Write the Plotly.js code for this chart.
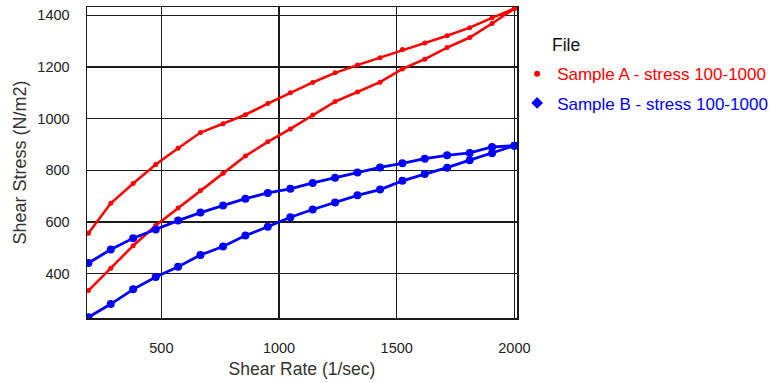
<!DOCTYPE html>
<html>
<head>
<meta charset="utf-8">
<script src="https://cdn.plot.ly/plotly-3.0.1.min.js"></script>
<style>html,body{margin:0;padding:0;background:#fff;}#chart{width:773px;height:383px;}</style>
</head>
<body>
<div id="chart"></div>
<script>
// Shear rate (1/sec) sample points
const shearRate = [190, 285, 380, 476, 571, 666, 762, 857, 952, 1048, 1143, 1238, 1333, 1429, 1524, 1619, 1714, 1810, 1905, 2000];
// Sample A: upper (down-sweep) and lower (up-sweep) branches
const stressA_upper = [556, 672, 749, 822, 885, 946, 980, 1015, 1058, 1100, 1140, 1177, 1207, 1236, 1267, 1293, 1321, 1352, 1390, 1426];
const stressA_lower = [334, 421, 508, 586, 654, 722, 788, 855, 910, 960, 1014, 1066, 1103, 1141, 1192, 1230, 1275, 1314, 1368, 1426];
// Sample B: upper and lower branches
const stressB_upper = [441, 493, 537, 571, 605, 636, 664, 690, 712, 728, 751, 771, 791, 811, 827, 845, 858, 867, 890, 895];
const stressB_lower = [231, 282, 339, 387, 426, 472, 505, 547, 581, 618, 648, 675, 703, 725, 759, 785, 810, 839, 866, 895];

const seriesNames = ["Sample A - stress 100-1000", "Sample B - stress 100-1000"];
const xTicks = [500, 1000, 1500, 2000];
const yTicks = [400, 600, 800, 1000, 1200, 1400];

// Build closed loop: lower branch up, upper branch back down
function loop(lower, upper) {
  const xs = shearRate.concat(shearRate.slice().reverse());
  const ys = lower.concat(upper.slice().reverse());
  return {xs, ys};
}
const A = loop(stressA_lower, stressA_upper);
const B = loop(stressB_lower, stressB_upper);

const red = '#ff0000', blue = '#0000ff';
const traces = [
  {x: A.xs, y: A.ys, name: seriesNames[0], type: 'scatter', mode: 'lines+markers',
   line: {color: red, width: 2.6}, marker: {color: red, size: 5, symbol: 'circle'},
   showlegend: false},
  {x: B.xs, y: B.ys, name: seriesNames[1], type: 'scatter', mode: 'lines+markers',
   line: {color: blue, width: 2.8}, marker: {color: blue, size: 8, symbol: 'circle'},
   showlegend: false},
  // legend entries (markers only, as in the reference legend)
  {x: [null], y: [null], name: seriesNames[0], type: 'scatter', mode: 'markers',
   marker: {color: red, size: 6, symbol: 'circle'}, legendgroup: 'a'},
  {x: [null], y: [null], name: seriesNames[1], type: 'scatter', mode: 'markers',
   marker: {color: blue, size: 9, symbol: 'diamond'}, legendgroup: 'b'}
];

const font = 'Liberation Sans, Arial, sans-serif';
const layout = {
  width: 773, height: 383,
  margin: {l: 87, r: 256, t: 7, b: 65},
  paper_bgcolor: '#fff', plot_bgcolor: '#fff',
  showlegend: true,
  font: {family: font, color: '#222'},
  xaxis: {
    range: [184, 2011], tickvals: xTicks, ticks: '', showgrid: true,
    gridcolor: '#1a1a1a', gridwidth: 1.5, zeroline: false,
    showline: true, linecolor: '#1a1a1a', linewidth: 1.5, mirror: true,
    tickfont: {size: 14.5, color: '#222', family: font}, ticklabelstandoff: 16,
    title: {text: 'Shear Rate (1/sec)', font: {size: 17.5, color: '#333', family: font}, standoff: 8}
  },
  yaxis: {
    range: [228, 1432], tickvals: yTicks, ticks: '', showgrid: true,
    gridcolor: '#1a1a1a', gridwidth: 1.5, zeroline: false,
    showline: true, linecolor: '#1a1a1a', linewidth: 1.5, mirror: true,
    tickfont: {size: 14.5, color: '#222', family: font}, ticklabelstandoff: 13,
    title: {text: 'Shear Stress (N/m2)', font: {size: 18, color: '#333', family: font}, standoff: 6}
  },
  legend: {
    xref: 'container', yref: 'container',
    x: 0.6690, xanchor: 'left', y: 0.853, yanchor: 'top',
    font: {size: 17.0, family: font}, itemwidth: 30, tracegroupgap: 4,
    bgcolor: 'rgba(0,0,0,0)', borderwidth: 0
  },
  annotations: [{
    text: 'File', xref: 'paper', yref: 'paper', x: 1.077, y: 0.878,
    xanchor: 'left', yanchor: 'middle', showarrow: false,
    font: {size: 17.5, color: '#111', family: font}
  }]
};

Plotly.newPlot('chart', traces, layout, {displayModeBar: false, staticPlot: true}).then(function(){
  const cols = [red, blue];
  document.querySelectorAll('.legendtext').forEach(function(t, i){ t.style.fill = cols[i]; });
});
</script>
</body>
</html>
